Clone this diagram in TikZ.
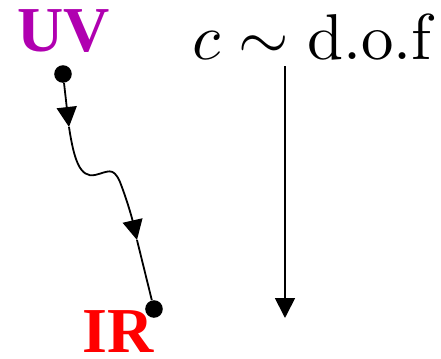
\documentclass[tikz,border=0pt]{standalone}
\usepackage{fontspec}
\newfontfamily\tnr{Liberation Serif}
\usetikzlibrary{arrows.meta}
\definecolor{uvcol}{rgb}{0.69,0,0.69}
\begin{document}
\begin{tikzpicture}[x=0.5pt,y=-0.5pt,
  dotnode/.style={circle,fill=black,inner sep=0pt,minimum size=8.8pt},
  flow/.style={line width=0.9pt},
  arr/.style={flow,-{Triangle[length=10pt,width=10pt]}},
  lbl/.style={font=\tnr\bfseries\fontsize{32}{36}\selectfont,inner sep=0pt}]
\useasboundingbox (0,0) rectangle (441,359);
\node[lbl,text=uvcol,anchor=base] (UV) at (64,51) {UV};
\node[lbl,text=red,anchor=base] (IR) at (118,352) {IR};
\node[anchor=base,inner sep=0pt] (dof) at (312,59) {\scalebox{3.24}{$c\sim\mathrm{d.o.f}$}};
\node[dotnode] (UVdot) at (63,74) {};
\node[dotnode] (IRdot) at (154,309) {};
\coordinate (m1) at (69,127);
\coordinate (m2) at (137,240);
\coordinate (top) at (285,66);
\coordinate (bot) at (285,318);
\draw[arr] (UVdot) -- (m1);
\draw[flow] (m1) .. controls (74,160) and (80,178) .. (95,175)
   .. controls (108,172) and (113,166) .. (120,182);
\draw[arr] (120,182) .. controls (127,200) and (132,218) .. (m2);
\draw[flow] (m2) -- (IRdot);
\draw[arr] (top) -- (bot);
\end{tikzpicture}
\end{document}
